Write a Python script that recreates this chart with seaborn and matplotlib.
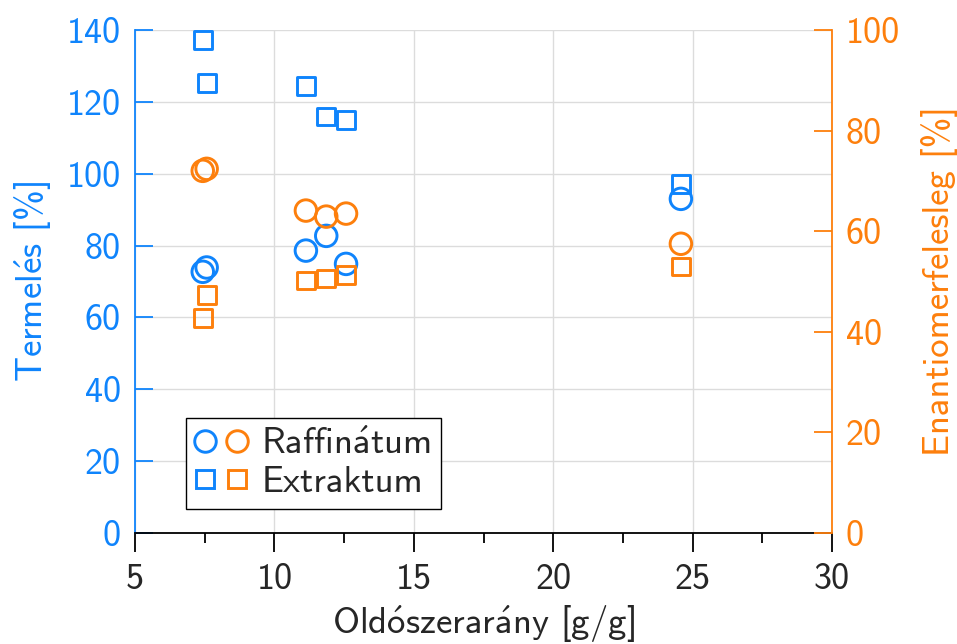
import matplotlib
matplotlib.use("Agg")
import matplotlib.pyplot as plt
from matplotlib.lines import Line2D
from matplotlib.legend_handler import HandlerTuple
from matplotlib.ticker import MultipleLocator
import seaborn as sns
import pandas as pd

# Solvent-to-feed ratio and measured results
ratio = [7.43, 7.57, 11.13, 11.86, 12.57, 24.58]
yield_raffinate = [72.7, 73.9, 78.6, 82.7, 74.9, 93.0]
yield_extract = [137.2, 125.3, 124.4, 115.9, 114.9, 97.1]
ee_raffinate = [72.0, 72.4, 64.1, 62.9, 63.5, 57.5]
ee_extract = [42.8, 47.3, 50.2, 50.6, 51.3, 53.0]

x_ticks = [5, 10, 15, 20, 25, 30]
left_ticks = [0, 20, 40, 60, 80, 100, 120, 140]
right_ticks = [0, 20, 40, 60, 80, 100]

BLUE = "#0f84fc"
ORANGE = "#fd7f0c"

sns.set_style("white")
plt.rcParams["font.family"] = ["cmss10", "DejaVu Sans"]
plt.rcParams["mathtext.fontset"] = "cm"
plt.rcParams["axes.formatter.use_mathtext"] = False
FS = 26
FS_LABEL = 26.5

df = pd.DataFrame({
    "ratio": ratio,
    "yield_raf": yield_raffinate,
    "yield_ext": yield_extract,
    "ee_raf": ee_raffinate,
    "ee_ext": ee_extract,
})

fig = plt.figure(figsize=(9.57, 6.44), dpi=100)
ax = fig.add_axes([135 / 957, 1 - 533 / 644, 697 / 957, 503 / 644])
ax2 = ax.twinx()

MS_CIRCLE = 15.5
MS_SQUARE = 12.8
LW = 2.1

sns.scatterplot(data=df, x="ratio", y="yield_raf", ax=ax, marker="o", s=MS_CIRCLE ** 2,
                facecolor="none", edgecolor=BLUE, linewidth=LW, zorder=3)
sns.scatterplot(data=df, x="ratio", y="yield_ext", ax=ax, marker="s", s=MS_SQUARE ** 2,
                facecolor="none", edgecolor=BLUE, linewidth=LW, zorder=3)
sns.scatterplot(data=df, x="ratio", y="ee_raf", ax=ax2, marker="o", s=MS_CIRCLE ** 2,
                facecolor="none", edgecolor=ORANGE, linewidth=LW, zorder=3)
sns.scatterplot(data=df, x="ratio", y="ee_ext", ax=ax2, marker="s", s=MS_SQUARE ** 2,
                facecolor="none", edgecolor=ORANGE, linewidth=LW, zorder=3)

ax.set_xlim(5, 30)
ax.set_ylim(0, 140)
ax2.set_ylim(0, 100)
ax.set_xticks(x_ticks)
ax.xaxis.set_minor_locator(MultipleLocator(2.5))
ax.set_yticks(left_ticks)
ax2.set_yticks(right_ticks)

ax.grid(True, which="major", color="#dcdcdc", linewidth=1.0)
ax.set_axisbelow(True)
ax2.grid(False)

for a in (ax, ax2):
    a.spines["top"].set_visible(False)
ax.spines["right"].set_visible(False)
ax2.spines["left"].set_visible(False)
ax2.spines["bottom"].set_visible(False)
ax.spines["left"].set_color(BLUE)
ax.spines["left"].set_linewidth(1.3)
ax.spines["bottom"].set_color("black")
ax.spines["bottom"].set_linewidth(1.3)
ax2.spines["right"].set_color(ORANGE)
ax2.spines["right"].set_linewidth(1.3)

ax.tick_params(axis="x", which="major", direction="out", length=13.5, width=1.3,
               color="black", labelsize=FS, pad=8, bottom=True)
ax.tick_params(axis="x", which="minor", direction="out", length=7, width=1.3,
               color="black", bottom=True)
ax.tick_params(axis="y", which="major", direction="in", length=13, width=1.3,
               color=BLUE, labelcolor=BLUE, labelsize=FS, pad=10, left=True)
ax2.tick_params(axis="y", which="major", direction="in", length=13, width=1.3,
                color=ORANGE, labelcolor=ORANGE, labelsize=FS, pad=10, right=True)

# accented letters come from the Computer Modern math accents
ax.set_xlabel(r"Old$\mathsf{\acute{o}}$szerar$\mathsf{\acute{a}}$ny [g/g]",
              fontsize=FS_LABEL, labelpad=5)
ax.set_ylabel(r"Termel$\mathsf{\acute{e}}$s [%]", fontsize=FS_LABEL, color=BLUE, labelpad=9)
ax2.set_ylabel("Enantiomerfelesleg [%]", fontsize=FS_LABEL, color=ORANGE, labelpad=15)

def handle(marker, color, ms):
    return Line2D([], [], linestyle="none", marker=marker, markersize=ms,
                  markerfacecolor="none", markeredgecolor=color, markeredgewidth=LW)

h_raf = (handle("o", BLUE, MS_CIRCLE), handle("o", ORANGE, MS_CIRCLE))
h_ext = (handle("s", BLUE, MS_SQUARE), handle("s", ORANGE, MS_SQUARE))
leg = ax2.legend([h_raf, h_ext], [r"Raffin$\mathsf{\acute{a}}$tum", "Extraktum"],
                 handler_map={tuple: HandlerTuple(ndivide=None, pad=0.42)},
                 loc="lower left", bbox_to_anchor=(0.073, 0.048), borderaxespad=0,
                 fontsize=FS_LABEL, frameon=True, fancybox=False, framealpha=1,
                 edgecolor="black", handlelength=1.35, handletextpad=0.42,
                 labelspacing=0.12, borderpad=0.28)
leg.get_frame().set_linewidth(1.0)

fig.savefig("out.png", dpi=100)
